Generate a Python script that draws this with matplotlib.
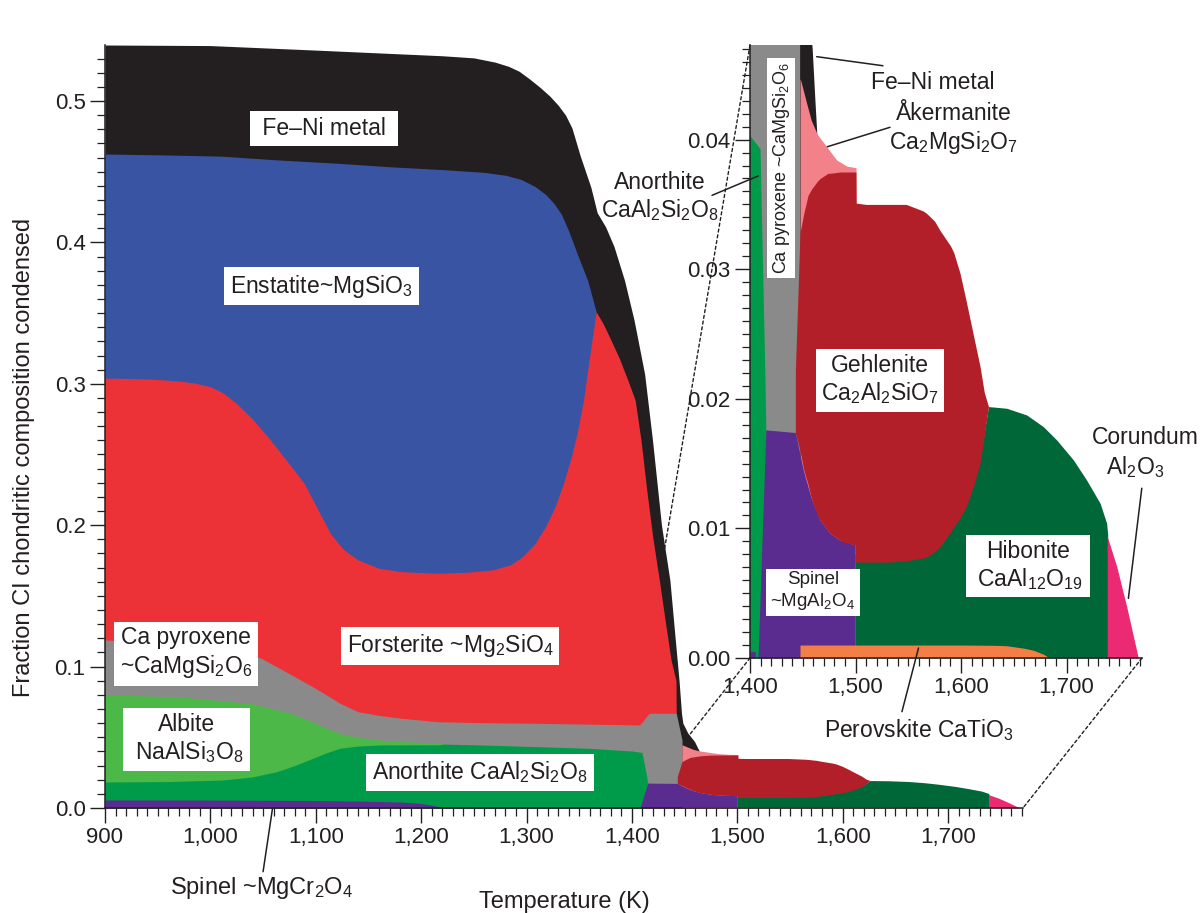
import numpy as np
import matplotlib
matplotlib.use("Agg")
import matplotlib.pyplot as plt
from matplotlib.patches import ConnectionPatch
from matplotlib.ticker import MultipleLocator, FuncFormatter

plt.rcParams['font.family'] = ['Liberation Sans', 'DejaVu Sans']
plt.rcParams['mathtext.fontset'] = 'custom'
plt.rcParams['mathtext.rm'] = 'Liberation Sans'
plt.rcParams['mathtext.it'] = 'Liberation Sans:italic'
plt.rcParams['mathtext.bf'] = 'Liberation Sans:bold'

# ---- phase boundaries (T in K, fraction condensed) ----
metal_T = [900, 1000, 1100, 1160, 1220, 1250, 1270, 1283, 1293, 1303, 1313, 1322,
           1330, 1337, 1343, 1351, 1361, 1367, 1375, 1383, 1393, 1402, 1412, 1419.5,
           1428, 1436, 1441, 1444.7, 1447, 1448.3, 1453, 1459.4, 1462, 1463.8]
metal_top = [0.5396, 0.5392, 0.536, 0.534, 0.532, 0.5305, 0.5275, 0.5245, 0.521,
             0.5155, 0.5095, 0.5035, 0.497, 0.490, 0.481, 0.461, 0.439, 0.421, 0.411,
             0.397, 0.373, 0.345, 0.307, 0.26, 0.20, 0.161, 0.12, 0.09, 0.067, 0.06,
             0.053, 0.047, 0.043, 0.0404]

enst_T = [900, 960, 1010, 1060, 1120, 1170, 1220, 1260, 1280, 1295, 1308, 1318, 1326,
          1333, 1340, 1348, 1358, 1366]
enst_top = [0.4625, 0.4618, 0.461, 0.4585, 0.456, 0.4535, 0.4515, 0.4495, 0.4475,
            0.4445, 0.4395, 0.434, 0.4275, 0.420, 0.408, 0.392, 0.373, 0.351]

fo_T = [900, 920, 945, 970, 985, 1000, 1012, 1025, 1040, 1055, 1072, 1089, 1102, 1114,
        1126, 1140, 1160, 1182, 1216, 1245, 1267, 1285, 1296, 1308, 1318, 1327, 1335,
        1342, 1348, 1354, 1360, 1366, 1373, 1380, 1388, 1396, 1403, 1408.6, 1414,
        1420, 1426, 1432, 1437, 1441.8, 1442]
fo_top = [0.304, 0.3038, 0.3033, 0.302, 0.3005, 0.298, 0.2935, 0.286, 0.275, 0.262,
          0.246, 0.2296, 0.211, 0.194, 0.183, 0.1754, 0.1695, 0.1671, 0.166, 0.1668,
          0.1683, 0.172, 0.1777, 0.187, 0.199, 0.213, 0.2296, 0.247, 0.265, 0.2885,
          0.32, 0.351, 0.342, 0.331, 0.318, 0.3027, 0.2885, 0.26, 0.225, 0.19, 0.161,
          0.13, 0.105, 0.09, 0.067]

cpx_T = [900, 960, 1010, 1048, 1070, 1097, 1110, 1122.6, 1140, 1160, 1182, 1216, 1260,
         1309, 1360, 1407, 1409.5, 1412, 1414, 1416.5, 1430, 1442, 1447.5]
cpx_top = [0.1188, 0.117, 0.112, 0.106, 0.097, 0.0858, 0.080, 0.0742, 0.0681, 0.0655,
           0.0634, 0.061, 0.0603, 0.0599, 0.0593, 0.0587, 0.0605, 0.063, 0.065, 0.067,
           0.067, 0.067, 0.048]

ab_T = [900, 970, 1038, 1060, 1076, 1097, 1110, 1122.6, 1140, 1161, 1182, 1216, 1222]
ab_top = [0.0799, 0.0787, 0.074, 0.070, 0.067, 0.061, 0.0565, 0.0528, 0.050, 0.0481,
          0.047, 0.0458, 0.0452]

an_T = [900, 960, 1012, 1040, 1063, 1080, 1097, 1110, 1122.6, 1140, 1161, 1216, 1222,
        1260, 1309, 1360, 1400, 1409.5, 1414, 1415]
an_top = [0.0184, 0.0187, 0.0198, 0.022, 0.0257, 0.030, 0.0351, 0.039, 0.0422, 0.0438,
          0.0446, 0.0447, 0.0452, 0.0445, 0.0434, 0.0422, 0.0403, 0.0393, 0.0222, 0.0176]

spcr_T = [900, 1000, 1100, 1150, 1182, 1200, 1210, 1218, 1300, 1405]
spcr_top = [0.0057, 0.0056, 0.0053, 0.0048, 0.0042, 0.0032, 0.002, 0.0008, 0.0006, 0.0005]

ak_T = [1447.4, 1448.3, 1453.7, 1458, 1463.8, 1472.7, 1482.1, 1491.6, 1500.5]
ak_top = [0.0447, 0.0445, 0.0428, 0.0415, 0.0404, 0.03945, 0.03843, 0.03796, 0.03783]

sp_T = [1407.6, 1415, 1443, 1450.5, 1458.5, 1466.4, 1475.8, 1485.3, 1499.5]
sp_top = [0.0, 0.0176, 0.0174, 0.0145, 0.0122, 0.01065, 0.00962, 0.0091, 0.00872]

hib_T = [1499.5, 1532, 1564, 1580, 1593, 1605, 1618, 1626, 1643.3, 1662.3, 1678,
         1690.7, 1706.5, 1719, 1731.8, 1738, 1739]
hib_top = [0.0080, 0.0080, 0.0082, 0.0090, 0.0105, 0.0122, 0.0155, 0.0194, 0.01927,
           0.01875, 0.01785, 0.01682, 0.01528, 0.01373, 0.01194, 0.0104, 0.0095]

geh_T = [1443, 1447.4, 1451, 1455, 1458.5, 1464, 1466.4, 1474, 1475.8, 1485.3, 1490,
         1499.5, 1499.6, 1500.4, 1500.6, 1510, 1532, 1548, 1564, 1567.5, 1575, 1580,
         1590, 1593, 1599, 1605, 1612, 1618, 1622, 1626]
geh_lo = [0.0174, 0.0160, 0.0145, 0.0134, 0.0122, 0.0110, 0.01065, 0.0098, 0.00962,
          0.0091, 0.0089, 0.00872, 0.0074, 0.0074, 0.0074, 0.0074, 0.0074, 0.0075,
          0.0077, 0.0078, 0.0082, 0.0086, 0.0097, 0.0101, 0.0108, 0.0117, 0.0133,
          0.015, 0.0172, 0.0194]
geh_hi = [0.0222, 0.0328, 0.0343, 0.0357, 0.0362, 0.0368, 0.0370, 0.0374, 0.0374,
          0.0375, 0.0375, 0.0375, 0.0375, 0.0375, 0.0351, 0.0350, 0.0350, 0.0350,
          0.0345, 0.0343, 0.0337, 0.033, 0.0318, 0.0313, 0.0297, 0.0275, 0.0248,
          0.0225, 0.0205, 0.0194]

cor_T = [1738.5, 1747.6, 1757, 1768]
cor_top = [0.0094, 0.00705, 0.00396, 0.0]

pv_T = [1447.4, 1500, 1600, 1630, 1643, 1660, 1668.5, 1678, 1684]
pv_top = [0.001, 0.001, 0.001, 0.00098, 0.00095, 0.00075, 0.0006, 0.0003, 0.0]

colors = {
    'metal': '#231f20', 'enst': '#3a54a4', 'fo': '#ed3237', 'cpx': '#8a8a8a',
    'ab': '#4cb848', 'an': '#009b4a', 'spcr': '#5b2c8f', 'ak': '#f3818a',
    'sp': '#5b2c8f', 'hib': '#006838', 'geh': '#b31f29', 'cor': '#ec2a74',
    'pv': '#f37f47',
}
INK = '#231f20'


def draw_phases(ax):
    kw = dict(linewidth=0)
    ax.fill_between(metal_T, 0, metal_top, color=colors['metal'], **kw)
    ax.fill_between(enst_T, 0, enst_top, color=colors['enst'], **kw)
    ax.fill_between(fo_T, 0, fo_top, color=colors['fo'], **kw)
    ax.fill_between(cpx_T, 0, cpx_top, color=colors['cpx'], **kw)
    ax.fill_between(ab_T, 0, ab_top, color=colors['ab'], **kw)
    ax.fill_between(an_T, 0, an_top, color=colors['an'], **kw)
    ax.fill_between(spcr_T, 0, spcr_top, color=colors['spcr'], **kw)
    ax.fill_between(ak_T, 0, ak_top, color=colors['ak'], **kw)
    ax.fill_between(sp_T, 0, sp_top, color=colors['sp'], **kw)
    ax.fill_between(hib_T, 0, hib_top, color=colors['hib'], **kw)
    ax.fill_between(geh_T, geh_lo, geh_hi, color=colors['geh'], **kw)
    ax.fill_between(cor_T, 0, cor_top, color=colors['cor'], **kw)
    ax.fill_between(pv_T, 0, pv_top, color=colors['pv'], **kw)


def style_axis(ax):
    for s in ['top', 'right']:
        ax.spines[s].set_visible(False)
    for s in ['left', 'bottom']:
        ax.spines[s].set_linewidth(1.1)
        ax.spines[s].set_color(INK)
    ax.tick_params(which='major', direction='out', length=11, width=1.0,
                   labelsize=16, pad=3, colors=INK)
    ax.tick_params(which='minor', direction='out', length=6, width=0.9,
                   colors=INK)


fig = plt.figure(figsize=(12.02, 9.13), dpi=100)

# main axes
ax = fig.add_axes([0.08735, 0.11501, 0.7637, 0.8357])
draw_phases(ax)
ax.set_xlim(900, 1771)
ax.set_ylim(0, 0.5396)
style_axis(ax)
ax.xaxis.set_major_locator(MultipleLocator(100))
ax.xaxis.set_minor_locator(MultipleLocator(10))
ax.yaxis.set_major_locator(MultipleLocator(0.1))
ax.yaxis.set_minor_locator(MultipleLocator(0.01))
ax.xaxis.set_major_formatter(FuncFormatter(lambda v, p: f'{v:,.0f}'))
ax.yaxis.set_major_formatter(FuncFormatter(lambda v, p: f'{v:.1f}'))
ax.set_xlabel('Temperature (K)', fontsize=17, color=INK)
ax.xaxis.set_label_coords(0.5, -0.109)
ax.set_ylabel('Fraction CI chondritic composition condensed', fontsize=17, color=INK)
ax.yaxis.set_label_coords(-0.076, 0.46)

box = dict(boxstyle='square,pad=0.25', fc='white', ec='none')
main_labels = [
    (' Fe\u2013Ni metal ', 1107.8, 0.4806),
    ('Enstatite~MgSiO$_3$', 1105.4, 0.369),
    ('Forsterite ~Mg$_2$SiO$_4$', 1227.3, 0.1146),
    ('Ca pyroxene\n~CaMgSi$_2$O$_6$', 976.9, 0.1096),
    ('Albite\n NaAlSi$_3$O$_8$ ', 977.3, 0.0488),
    ('Anorthite CaAl$_2$Si$_2$O$_8$', 1255.8, 0.0251),
]
for txt, x, y in main_labels:
    ax.text(x, y, txt, ha='center', va='center', fontsize=16.5, bbox=box,
            color=INK, zorder=5)

ax.text(1049, -0.0566, 'Spinel ~MgCr$_2$O$_4$', ha='center', va='center',
        fontsize=17, color=INK, clip_on=False)
ax.annotate('', xy=(1059, 0.0), xytext=(1050, -0.045),
            arrowprops=dict(arrowstyle='-', lw=1.1, color=INK,
                            shrinkA=0, shrinkB=0), annotation_clip=False)

# inset axes
ins = fig.add_axes([0.62396, 0.27930, 0.32612, 0.67141])
ins.set_facecolor('none')
draw_phases(ins)
ins.set_xlim(1400, 1771.5)
ins.set_ylim(0, 0.0473)
style_axis(ins)
ins.xaxis.set_major_locator(MultipleLocator(100))
ins.xaxis.set_minor_locator(MultipleLocator(10))
ins.yaxis.set_major_locator(MultipleLocator(0.01))
ins.yaxis.set_minor_locator(MultipleLocator(0.001))
ins.xaxis.set_major_formatter(FuncFormatter(lambda v, p: f'{v:,.0f}'))
ins.yaxis.set_major_formatter(FuncFormatter(lambda v, p: f'{v:.2f}'))

inset_boxed = [
    ('Gehlenite\nCa$_2$Al$_2$SiO$_7$', 1523, 0.02145, 16.5, 0),
    ('Spinel\n~MgAl$_2$O$_4$', 1459.7, 0.00513, 13.5, 0),
    ('Hibonite\n CaAl$_{12}$O$_{19}$ ', 1663.5, 0.0071, 16.5, 0),
    ('Ca pyroxene ~CaMgSi$_2$O$_6$', 1429.4, 0.0378, 13, 90),
]
for txt, x, y, fs, rot in inset_boxed:
    ins.text(x, y, txt, ha='center', va='center', fontsize=fs, rotation=rot,
             bbox=dict(boxstyle='square,pad=0.22', fc='white', ec='none'),
             color=INK, zorder=5)

inset_plain = [
    ('Fe\u2013Ni metal', 1573.5, 0.0444),
    ('\u00c5kermanite\nCa$_2$MgSi$_2$O$_7$', 1593, 0.0408),
    ('Anorthite\nCaAl$_2$Si$_2$O$_8$', 1314.7, 0.03557),
    ('Corundum', 1774.4, 0.01705),
    ('Al$_2$O$_3$', 1764.6, 0.01474),
    ('Perovskite CaTiO$_3$', 1559.7, -0.00556),
]
for txt, x, y in inset_plain:
    ins.text(x, y, txt, ha='center', va='center', fontsize=16.5,
             color=INK, clip_on=False, zorder=5)

leaders = [
    ((1463.2, 0.0464), (1526, 0.0457)),
    ((1473.3, 0.03945), (1532.7, 0.04095)),
    ((1407.9, 0.0372), (1364, 0.0357)),
    ((1758.6, 0.0046), (1771.3, 0.0131)),
    ((1559.7, 0.00077), (1544, -0.00414)),
]
for p, q in leaders:
    ins.annotate('', xy=p, xytext=q,
                 arrowprops=dict(arrowstyle='-', lw=1.1, color=INK,
                                 shrinkA=0, shrinkB=0), annotation_clip=False)

# zoom connectors (dotted)
x0, x1 = ins.get_xlim()
y1 = ins.get_ylim()[1]
dash = dict(linestyle=(0, (2.2, 2.0)), lw=1.0, color=INK)
for xy in [(x0, y1), (x0, 0)]:
    con = ConnectionPatch(xyA=xy, coordsA=ins.transData, xyB=xy,
                          coordsB=ax.transData, zorder=0.5, **dash)
    ax.add_artist(con)
con = ConnectionPatch(xyA=(x1, 0), coordsA=ins.transData, xyB=(1771, 0),
                      coordsB=ax.transData, **dash)
fig.add_artist(con)

fig.savefig('out.png', dpi=100)
